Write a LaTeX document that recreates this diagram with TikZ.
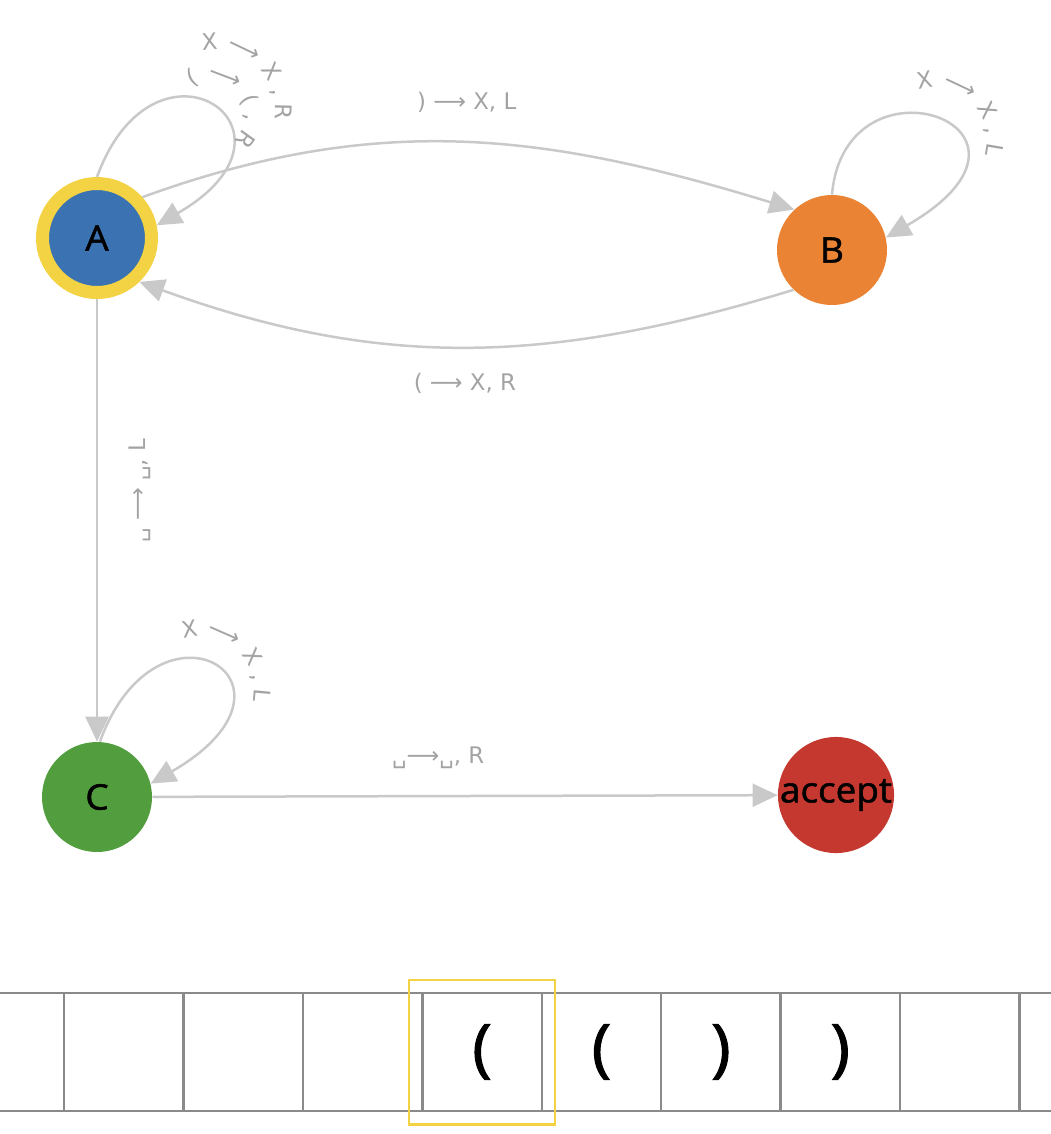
\documentclass[tikz,border=0pt]{standalone}
\usepackage{fontspec}
\usepackage{tikz}
\usetikzlibrary{arrows.meta,fit,calc,decorations.text}
\newfontfamily\nodefont[FakeStretch=1.05, FakeBold=1.5]{Open Sans}
\newfontfamily\lblfont{DejaVu Sans}
\newcommand{\tnil}{}
\newcommand{\tlp}{(}
\newcommand{\trp}{)}
\definecolor{ablue}{HTML}{3B73B2}
\definecolor{ayellow}{HTML}{F3D343}
\definecolor{borange}{HTML}{EA8434}
\definecolor{cgreen}{HTML}{529D3D}
\definecolor{acred}{HTML}{C4382F}
\definecolor{edgegray}{HTML}{C9C9C9}
\definecolor{lblgray}{HTML}{A3A3A3}
\definecolor{tapegray}{HTML}{8A8A8A}

\begin{document}
\begin{tikzpicture}[
    state/.style={circle, minimum size=2.2cm, inner sep=0pt, font=\nodefont\fontsize{20}{22}\selectfont},
    edge/.style={draw=edgegray, line width=0.05cm, -{Triangle[length=5mm, width=4.6mm]}},
    lbl/.style={font=\lblfont\fontsize{13}{15}\selectfont, text=lblgray},
    looplbl/.style={decorate, decoration={text along path, text={|\lblfont\fontsize{13}{15}\selectfont\color{lblgray}|#1}}},
    cell/.style={draw=tapegray, line width=0.05cm, minimum width=2.388cm, minimum height=2.36cm, inner sep=0pt, font=\nodefont\fontsize{36}{40}\selectfont},
    headbox/.style={draw=ayellow, line width=0.05cm, inner sep=0.24cm}
  ]
    \useasboundingbox (0,0) rectangle (21,-22.68);
    % states
    \node[state, fill=ablue, draw=ayellow, line width=0.26cm, minimum size=2.18cm] (A) at (1.94,-4.76) {A};
    \node[state, fill=borange] (B) at (16.64,-5.00) {B};
    \node[state, fill=cgreen] (C) at (1.94,-15.94) {C};
    \node[state, fill=acred, minimum size=2.16cm] (acc) at (16.72,-15.90) {accept};
    % transitions
    \draw[edge] (A.42) to[out=20, in=163] node[lbl, yshift=0.8cm] {) ⟶ X, L} (B.133);
    \draw[edge] (B.226) to[out=197, in=340] node[lbl, yshift=-0.73cm] {( ⟶ X, R} (A.314);
    \draw[edge] (A.90) .. controls +(70:3.4) and +(30:3.8) .. (A.12);
    \draw[edge] (B.90) .. controls +(85:3.0) and +(30:4.4) .. (B.13);
    \draw[edge] (C.87) .. controls +(70:3.4) and +(30:4.0) .. (C.14);
    \draw[edge] (A.south) -- node[lbl, xshift=0.86cm, yshift=0.59cm, rotate=90] {␣ ⟶ ␣, L} (C.north);
    \draw[edge] (C) -- node[lbl, pos=0.457, yshift=0.76cm] {␣⟶␣, R} (acc);
    % loop labels
    \path[looplbl={X ⟶ X , R}] ($(A)+(2.36,2.56)+(102:1.2)$) arc[start angle=102, end angle=-40, radius=1.2];
    \path[looplbl={( ⟶ ( , R}] ($(A)+(2.28,2.46)+(124:0.68)$) arc[start angle=124, end angle=-90, radius=0.68];
    \path[looplbl={X ⟶ X , L}] ($(B)+(2.06,2.20)+(108:1.04)$) arc[start angle=108, end angle=-40, radius=1.04];
    \path[looplbl={X ⟶ X , L}] ($(C)+(2.06,2.14)+(108:1.08)$) arc[start angle=108, end angle=-40, radius=1.08];
    % tape
    \foreach \sym [count=\k from 0] in {\tnil,\tnil,\tnil,\tnil,\tlp,\tlp,\trp,\trp,\tnil,\tnil} {
      \node[cell] (cell\k) at (0.09+2.388*\k,-21.04) {\sym};
    }
    \node[headbox, fit=(cell4)] (head) {};
  \end{tikzpicture}
\end{document}
